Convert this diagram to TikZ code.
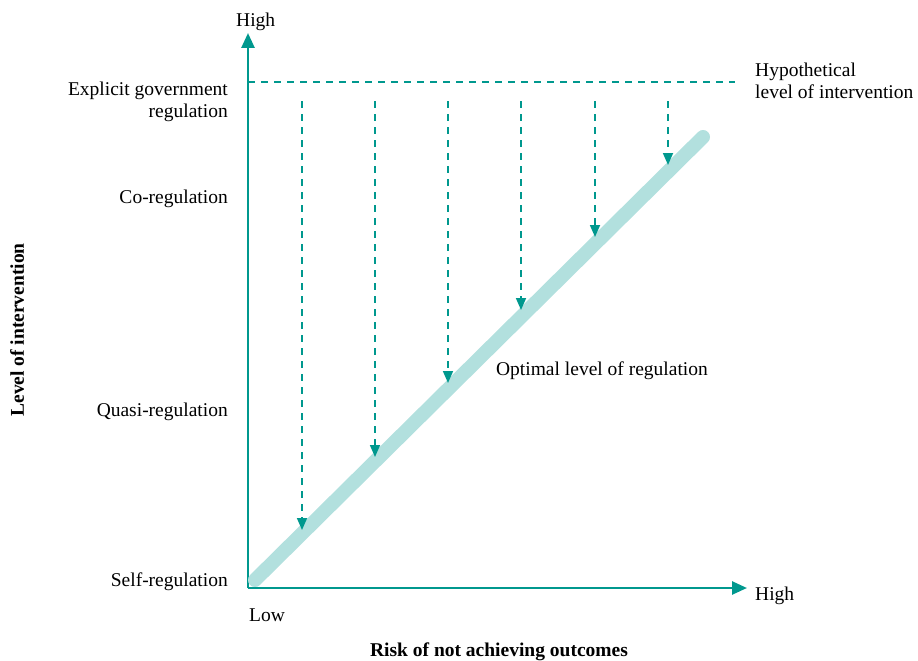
\documentclass[tikz,border=0pt]{standalone}
\usepackage{fontspec}
\setmainfont{Liberation Serif}
\usetikzlibrary{arrows.meta}
\definecolor{teal}{RGB}{0,152,142}
\definecolor{lightteal}{RGB}{178,224,222}
\begin{document}
\begin{tikzpicture}[x=1pt,y=-1pt,
  lbl/.style={font=\fontsize{19.5}{22.5}\selectfont, inner sep=0pt},
  bold/.style={font=\fontsize{19.5}{22.5}\selectfont\bfseries},
  axis/.style={teal, line width=2.6pt, -{Triangle[width=13pt,length=15pt]}},
  drop/.style={teal, line width=1.7pt, dash pattern=on 7pt off 6pt, -{Triangle[width=10pt,length=12pt]}},
  optimal/.style={lightteal, line width=14pt, line cap=round}]
\useasboundingbox (0,0) rectangle (918,661);

% axes
\coordinate (origin) at (248,588);
\coordinate (ytop) at (248,33);
\coordinate (xend) at (747,588);
\draw[axis] (origin) -- (ytop);
\draw[axis] (origin) -- (xend);

% optimal regulation line
\coordinate (optA) at (255,580);
\coordinate (optB) at (703,137);
\draw[optimal] (optA) -- (optB);

% hypothetical level of intervention
\coordinate (hypA) at (248,82);
\coordinate (hypB) at (735,82);
\draw[teal, line width=1.7pt, dash pattern=on 7pt off 6pt] (hypA) -- (hypB);

% drops from hypothetical level to optimal line
\foreach \i/\x/\y in {1/302/530, 2/375/457, 3/448/383, 4/521/310, 5/595/237, 6/668/165}{
  \coordinate (top\i) at (\x,101);
  \coordinate (bot\i) at (\x,\y);
  \draw[drop] (top\i) -- (bot\i);
}

% labels
\node[lbl, anchor=base west] (yhigh) at (236,27) {High};
\node[lbl, align=right, anchor=east] (explicit) at (228,102) {Explicit government\\regulation};
\node[lbl, anchor=east] (co) at (228,199) {Co-regulation};
\node[lbl, anchor=east] (quasi) at (228,412) {Quasi-regulation};
\node[lbl, anchor=east] (self) at (228,582) {Self-regulation};
\node[lbl, anchor=west] (low) at (249,615) {Low};
\node[lbl, anchor=west] (xhigh) at (755,596) {High};
\node[lbl, align=left, anchor=west] (hyp) at (755,81) {Hypothetical\\level of intervention};
\node[lbl, anchor=center] (opt) at (602,371) {Optimal level of regulation};
\node[lbl, bold, rotate=90] (ylabel) at (17,330) {Level of intervention};
\node[lbl, bold] (xlabel) at (499,652) {Risk of not achieving outcomes};
\end{tikzpicture}
\end{document}
